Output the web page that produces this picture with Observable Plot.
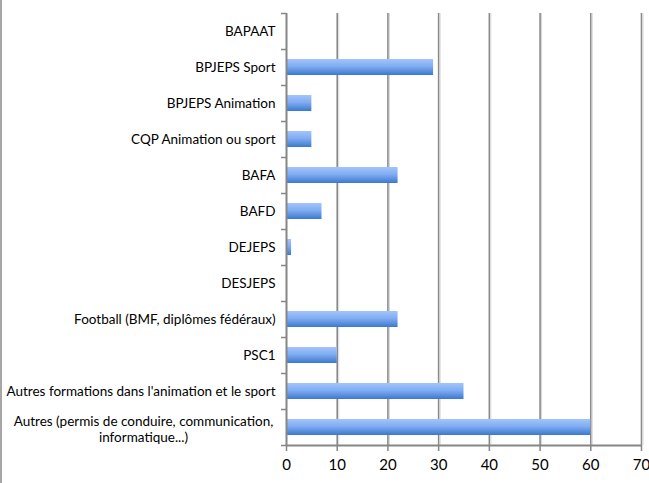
<!DOCTYPE html>
<html>
<head>
<meta charset="utf-8">
<script src="https://cdn.jsdelivr.net/npm/d3@7"></script>
<script src="https://cdn.jsdelivr.net/npm/@observablehq/plot@0.6"></script>
<style>
  html, body { margin: 0; padding: 0; background: #fff; }
  #wrap { position: relative; width: 649px; height: 483px; overflow: hidden; }
  #border { position: absolute; left: 0; top: 0; width: 2px; height: 483px; background: #a6a6a6; }
</style>
</head>
<body>
<div id="wrap"><div id="border"></div></div>
<script>
const categories = [
  "BAPAAT",
  "BPJEPS Sport",
  "BPJEPS Animation",
  "CQP Animation ou sport",
  "BAFA",
  "BAFD",
  "DEJEPS",
  "DESJEPS",
  "Football (BMF, diplômes fédéraux)",
  "PSC1",
  "Autres formations dans l'animation et le sport",
  "Autres (permis de conduire, communication,\ninformatique...)"
];
const values = [0, 29, 5, 5, 22, 7, 1, 0, 22, 10, 35, 60];
const xTicks = [0, 10, 20, 30, 40, 50, 60, 70];

const data = categories.map((c, i) => ({category: c, value: values[i]}));
const lastCat = categories[categories.length - 1];
const font = "Lato, 'Open Sans', sans-serif";

function gradientDefs() {
  const ns = "http://www.w3.org/2000/svg";
  const defs = document.createElementNS(ns, "defs");
  const lg = document.createElementNS(ns, "linearGradient");
  lg.setAttribute("id", "barGrad");
  lg.setAttribute("x1", "0"); lg.setAttribute("y1", "0");
  lg.setAttribute("x2", "0"); lg.setAttribute("y2", "1");
  [["0%", "#a2c4fc"], ["45%", "#82adf2"], ["100%", "#3b79cf"]].forEach(([o, c]) => {
    const s = document.createElementNS(ns, "stop");
    s.setAttribute("offset", o);
    s.setAttribute("stop-color", c);
    lg.appendChild(s);
  });
  defs.appendChild(lg);
  return defs;
}

const chart = Plot.plot({
  width: 649,
  height: 483,
  marginLeft: 286,
  marginRight: 8,
  marginTop: 13,
  marginBottom: 38,
  style: {fontFamily: font, fontSize: "13.5px", color: "#000", background: "transparent"},
  x: {domain: [0, 70], ticks: xTicks, label: null},
  y: {domain: categories, paddingInner: 0.56, paddingOuter: 0.28, align: 0.5, label: null},
  marks: [
    gradientDefs,
    Plot.gridX(xTicks.filter(d => d > 0), {stroke: "#8a8a8a", strokeWidth: 1.6, strokeOpacity: 1}),
    Plot.gridX(xTicks.filter(d => d > 0), {stroke: "#d8d8d8", strokeWidth: 1, strokeOpacity: 1, dx: 1.5}),
    Plot.barX(data, {x: "value", y: "category", fill: "url(#barGrad)"}),
    // y axis line
    Plot.ruleX([0], {stroke: "#868686", strokeWidth: 2}),
    // x axis line
    Plot.ruleY([0], {x1: 0, x2: 70, y: () => lastCat, dy: 18, stroke: "#868686", strokeWidth: 2}),
    // y-axis ticks at band boundaries
    Plot.axisY({ticks: categories, tickSize: 5, tickFormat: () => "", dy: -18, stroke: "#868686", strokeWidth: 1.5, label: null}),
    Plot.axisY({ticks: [lastCat], tickSize: 5, tickFormat: () => "", dy: 18, stroke: "#868686", strokeWidth: 1.5, label: null}),
    // y labels
    Plot.axisY({ticks: categories, tickSize: 0, tickPadding: 11, label: null,
      tickFormat: d => d === lastCat ? "" : d, fontSize: 13.5, fill: "#000"}),
    Plot.text([lastCat], {x: () => 0, y: d => d, text: d => d, textAnchor: "middle", dx: -143, dy: 1,
      lineHeight: 1.22, fontSize: 13.5, fill: "#000"}),
    // x axis ticks and labels
    Plot.axisX({ticks: xTicks, tickSize: 6, tickPadding: 8, stroke: "#868686", strokeWidth: 1.5,
      fontSize: 15, fill: "#000", label: null})
  ]
});
document.getElementById("wrap").appendChild(chart);
</script>
</body>
</html>
